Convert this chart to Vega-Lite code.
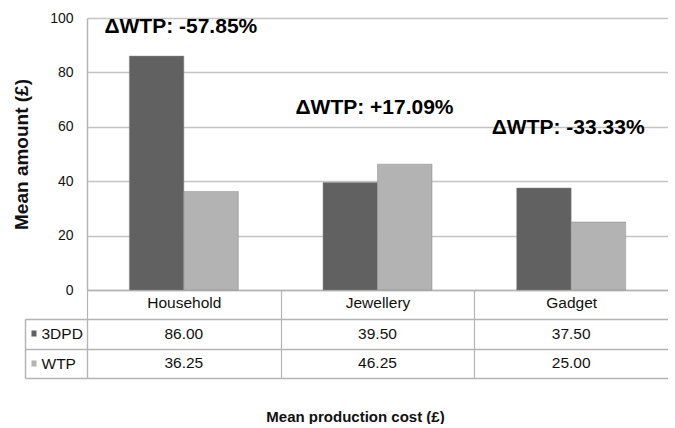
{
  "$schema": "https://vega.github.io/schema/vega-lite/v6.json",
  "padding": {"left": 12, "top": 11, "right": 0, "bottom": 0},
  "background": "white",
  "datasets": {
    "bars": [
      {"category": "Household", "series": "3DPD", "value": 86.0},
      {"category": "Household", "series": "WTP", "value": 36.25},
      {"category": "Jewellery", "series": "3DPD", "value": 39.5},
      {"category": "Jewellery", "series": "WTP", "value": 46.25},
      {"category": "Gadget", "series": "3DPD", "value": 37.5},
      {"category": "Gadget", "series": "WTP", "value": 25.0}
    ],
    "notes": [
      {"category": "Household", "label": "ΔWTP: -57.85%", "level": 96.7},
      {"category": "Jewellery", "label": "ΔWTP: +17.09%", "level": 66.9},
      {"category": "Gadget", "label": "ΔWTP: -33.33%", "level": 59.6}
    ]
  },
  "bounds": "flush",
  "spacing": 29,
  "vconcat": [
    {
      "width": 581,
      "height": 272,
      "layer": [
        {
          "data": {"name": "bars"},
          "mark": {"type": "bar", "stroke": "#8a8a8a", "strokeWidth": 0.5},
          "encoding": {
            "x": {
              "field": "category", "type": "nominal",
              "sort": ["Household", "Jewellery", "Gadget"],
              "scale": {"paddingInner": 0, "paddingOuter": 0},
              "axis": {
                "title": null, "labelAngle": 0, "domainColor": "#b4b4b4", "domainWidth": 1.5,
                "tickBand": "extent", "tickSize": 29, "tickColor": "#b4b4b4", "tickWidth": 1.2,
                "tickOpacity": {"condition": {"test": "datum.value === 'Gadget' && !datum.extra", "value": 0}, "value": 1},
                "labelPadding": -24, "labelFont": "Liberation Sans", "labelFontSize": 15.5,
                "labelColor": "#111111"
              }
            },
            "xOffset": {"field": "series", "type": "nominal", "sort": ["3DPD", "WTP"], "scale": {"paddingInner": 0, "paddingOuter": 0.777}},
            "y": {
              "field": "value", "type": "quantitative",
              "scale": {"domain": [0, 100], "nice": false},
              "axis": {
                "values": [0, 20, 40, 60, 80, 100], "title": "Mean amount (£)",
                "titleFont": "Liberation Sans", "titleFontSize": 19, "titleFontWeight": "bold", "titleColor": "#111111",
                "titlePadding": 18,
                "labelFont": "Liberation Sans", "labelFontSize": 14, "labelColor": "#111111", "labelPadding": 14,
                "ticks": false, "domainColor": "#b4b4b4", "domainWidth": 1.5,
                "gridColor": "#c4c4c4", "gridWidth": 1.5
              }
            },
            "color": {
              "field": "series", "type": "nominal",
              "scale": {"domain": ["3DPD", "WTP"], "range": ["#616161", "#b3b3b3"]},
              "legend": null
            }
          }
        },
        {
          "data": {"name": "notes"},
          "mark": {"type": "text", "font": "Liberation Sans", "fontWeight": "bold", "fontSize": 21, "color": "#000000", "dx": -3},
          "encoding": {
            "x": {"field": "category", "type": "nominal", "sort": ["Household", "Jewellery", "Gadget"]},
            "y": {"field": "level", "type": "quantitative"},
            "text": {"field": "label"}
          }
        }
      ]
    },
    {
      "width": 581,
      "height": 59,
      "data": {"name": "bars"},
      "resolve": {"axis": {"y": "independent"}},
      "layer": [
        {
          "mark": {"type": "text", "font": "Liberation Sans", "fontSize": 15.5, "color": "#111111"},
          "encoding": {
            "x": {
              "field": "category", "type": "nominal",
              "sort": ["Household", "Jewellery", "Gadget"],
              "scale": {"paddingInner": 0, "paddingOuter": 0},
              "axis": {
                "title": "Mean production cost (£)", "titleFont": "Liberation Sans", "titleFontSize": 15,
                "titleFontWeight": "bold", "titleColor": "#111111", "titlePadding": 31,
                "titleX": 268, "titleAlign": "center",
                "labels": false, "ticks": false, "domain": false,
                "grid": true, "tickBand": "extent", "gridColor": "#b4b4b4", "gridWidth": 1.2,
                "gridOpacity": {"condition": {"test": "datum.value === 'Gadget' && !datum.extra", "value": 0}, "value": 1}
              }
            },
            "y": {
              "field": "series", "type": "nominal", "sort": ["3DPD", "WTP"],
              "scale": {"paddingInner": 0, "paddingOuter": 0},
              "axis": {
                "orient": "left", "title": null,
                "labelAlign": "left", "labelPadding": -16, "labelFont": "Liberation Sans", "labelFontSize": 15.5, "labelColor": "#111111",
                "grid": true, "tickBand": "extent", "gridColor": "#b4b4b4", "gridWidth": 1.5,
                "ticks": true, "tickSize": 62, "tickColor": "#b4b4b4", "tickWidth": 1.5,
                "domain": true, "domainColor": "#b4b4b4", "domainWidth": 1.2
              }
            },
            "text": {"field": "value", "type": "quantitative", "format": ".2f"}
          }
        },
        {
          "mark": {"type": "text", "opacity": 0},
          "encoding": {
            "y": {
              "field": "series", "type": "nominal", "sort": ["3DPD", "WTP"],
              "axis": {
                "orient": "left", "title": null, "offset": 62, "labels": false, "grid": false,
                "domain": true, "domainColor": "#b4b4b4", "domainWidth": 1.5,
                "ticks": true, "tickSize": -11, "tickWidth": 6, "tickDash": [0, 6, 5, 40],
                "tickColor": {"condition": {"test": "datum.value === '3DPD'", "value": "#616161"}, "value": "#b3b3b3"}
              }
            },
            "text": {"value": ""}
          }
        }
      ]
    }
  ],
  "config": {
    "view": {"stroke": null},
    "font": "Liberation Sans"
  }
}
